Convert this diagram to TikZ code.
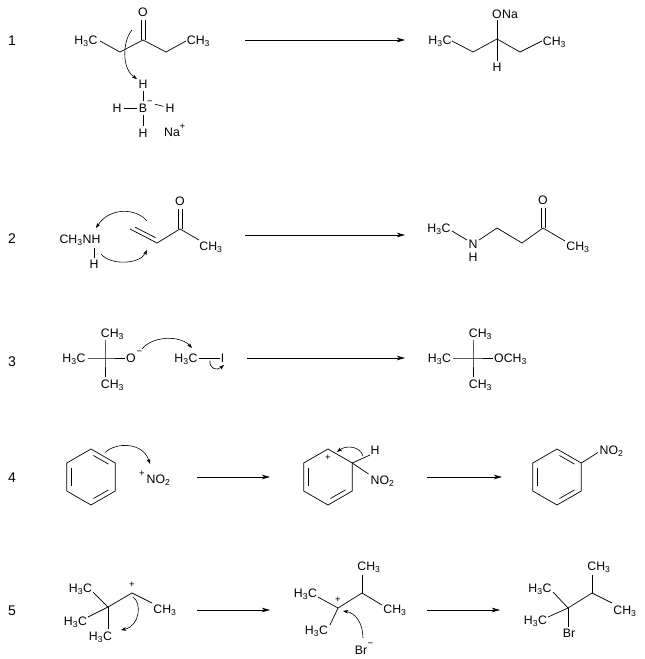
\documentclass[tikz,border=0pt]{standalone}
\usepackage{fontspec}
\setmainfont{Liberation Sans}
\usetikzlibrary{arrows.meta,calc}
\newcommand{\chsub}[1]{\textsubscript{#1}}
\newcommand{\chsup}[1]{\textsuperscript{#1}}
\begin{document}
\begin{tikzpicture}[x=1pt,y=-1pt,
  bond/.style={line width=0.7pt},
  hbond/.style={bond, shorten <=2pt, shorten >=2pt},
  inner/.style={bond, shorten <=2.8pt, shorten >=2.8pt},
  lbl/.style={font=\fontsize{12.3}{14}\selectfont, inner sep=0pt, text height=8.8pt, text depth=0pt},
  supl/.style={font=\fontsize{9.5}{10}\selectfont, inner sep=0pt},
  num/.style={font=\fontsize{14}{16}\selectfont, inner sep=0pt, text height=10pt, text depth=0pt},
  rxn/.style={line width=0.7pt, -{Stealth[length=8pt,width=4.5pt,inset=2pt]}},
  curly/.style={line width=0.6pt, -{Stealth[length=5pt,width=3.6pt,inset=1.2pt]}}]
\fill[white] (0,0) rectangle (645,659);
\useasboundingbox (0,0) rectangle (645,659);

% ---------------- Row 1 ----------------
\node[num] (n1) at (12,40) {1};
\node[lbl] (r1a) at (86,40) {H\chsub{3}C};
\coordinate (r1a1) at (100,41);
\coordinate (r1b) at (120,52);
\coordinate (r1c) at (143,40);
\coordinate (r1d) at (166,52);
\coordinate (r1e1) at (186,41);
\node[lbl] (r1e) at (198.5,40) {CH\chsub{3}};
\node[lbl] (r1O) at (143,12) {O};
\coordinate (r1Ob) at (143,19.5);
\draw[bond] (r1a1) -- (r1b) -- (r1c) -- (r1d) -- (r1e1);
\draw[bond] ([xshift=-2pt]r1c) -- ([xshift=-2pt]r1Ob);
\draw[bond] ([xshift=2pt]r1c) -- ([xshift=2pt]r1Ob);
\coordinate (r1cs) at (132,30);
\coordinate (r1ce) at (137,79);
\draw[curly] (r1cs) .. controls (123,40) and (121,68) .. (r1ce);
\node[lbl] (r1Ht) at (143,84) {H};
\node[lbl] (r1B) at (143,108) {B};
\node[supl] (r1Bm) at (150,103) {−};
\node[lbl] (r1Hl) at (117,108) {H};
\node[lbl] (r1Hr) at (170,108) {H};
\node[lbl] (r1Hb) at (143,133) {H};
\node[lbl] (r1Na) at (172,132) {Na};
\node[supl] (r1Nap) at (182.5,127) {+};
\draw[hbond] (r1Ht) -- (r1B);
\draw[hbond] (r1B) -- (r1Hb);
\draw[hbond] (r1Hl) -- (r1B);
\draw[hbond] (r1Bm) -- (r1Hr);
\coordinate (a1s) at (245,40);
\coordinate (a1e) at (405,40);
\draw[rxn] (a1s) -- (a1e);
\node[lbl] (p1a) at (440,40) {H\chsub{3}C};
\coordinate (p1a1) at (452,41);
\coordinate (p1b) at (473,52);
\coordinate (p1c) at (497,39);
\coordinate (p1d) at (520,52);
\coordinate (p1e1) at (542,41);
\node[lbl] (p1e) at (554.5,41) {CH\chsub{3}};
\node[lbl] (p1O) at (497,14) {O};
\node[lbl,anchor=west] (p1Na) at (p1O.east) {Na};
\node[lbl] (p1H) at (497,67) {H};
\draw[bond] (p1a1) -- (p1b) -- (p1c) -- (p1d) -- (p1e1);
\draw[bond, shorten >=1.5pt] (p1c) -- (p1O);
\draw[bond, shorten >=1.5pt] (p1c) -- (p1H);

% ---------------- Row 2 ----------------
\node[num] (n2) at (12,238) {2};
\node[lbl] (r2t) at (80,239) {CH\chsub{3}NH};
\coordinate (r2Nb) at (94,247.5);
\node[lbl] (r2Hb) at (94,264) {H};
\draw[bond, shorten >=1.5pt] (r2Nb) -- (r2Hb);
\coordinate (r2a) at (130,229);
\coordinate (r2b) at (157,243);
\coordinate (r2c) at (180,229);
\coordinate (r2d1) at (199,240);
\coordinate (r2ia) at (135,227.1);
\coordinate (r2ib) at (155.6,237.7);
\node[lbl] (r2O) at (180,201) {O};
\coordinate (r2Ob) at (180,208.5);
\node[lbl] (r2Me) at (211,246) {CH\chsub{3}};
\draw[bond] (r2a) -- (r2b) -- (r2c) -- (r2d1);
\draw[bond] (r2ia) -- (r2ib);
\draw[bond] ([xshift=-2pt]r2c) -- ([xshift=-2pt]r2Ob);
\draw[bond] ([xshift=2pt]r2c) -- ([xshift=2pt]r2Ob);
\coordinate (r2u1) at (147,221);
\coordinate (r2u2) at (96,228);
\draw[curly] (r2u1) .. controls (135,207) and (109,208) .. (r2u2);
\coordinate (r2l1) at (101,254);
\coordinate (r2l2) at (147,250);
\draw[curly] (r2l1) .. controls (111,266) and (140,264) .. (r2l2);
\coordinate (a2s) at (245,235);
\coordinate (a2e) at (405,235);
\draw[rxn] (a2s) -- (a2e);
\node[lbl] (p2a) at (439,228) {H\chsub{3}C};
\node[lbl] (p2N) at (473,244) {N};
\node[lbl] (p2H) at (473,257) {H};
\coordinate (p2a1) at (452,231);
\coordinate (p2n1) at (467,240);
\coordinate (p2n2) at (479,240);
\coordinate (p2b) at (497,228);
\coordinate (p2c) at (522,243);
\coordinate (p2d) at (543,228);
\coordinate (p2e1) at (565,241);
\node[lbl] (p2O) at (543,200) {O};
\coordinate (p2Ob) at (543,207.5);
\node[lbl] (p2Me) at (578,246) {CH\chsub{3}};
\draw[bond] (p2a1) -- (p2n1);
\draw[bond] (p2n2) -- (p2b) -- (p2c) -- (p2d) -- (p2e1);
\draw[bond] ([xshift=-2pt]p2d) -- ([xshift=-2pt]p2Ob);
\draw[bond] ([xshift=2pt]p2d) -- ([xshift=2pt]p2Ob);

% ---------------- Row 3 ----------------
\node[num] (n3) at (12,361) {3};
\node[lbl] (r3a) at (74,358) {H\chsub{3}C};
\coordinate (r3a1) at (87.5,358);
\coordinate (r3c) at (105,358);
\coordinate (r3o1) at (124.5,358);
\node[lbl] (r3t) at (112.5,333) {CH\chsub{3}};
\coordinate (r3t1) at (105,340);
\node[lbl] (r3b) at (112.5,384) {CH\chsub{3}};
\coordinate (r3b1) at (105,377);
\node[lbl] (r3O) at (131,358) {O};
\node[supl] (r3Om) at (139.5,353) {−};
\draw[bond] (r3a1) -- (r3c) -- (r3o1);
\draw[bond] (r3t1) -- (r3c) -- (r3b1);
\node[lbl] (r3m) at (186,358) {H\chsub{3}C};
\coordinate (r3m1) at (199,358);
\coordinate (r3i1) at (219.5,358);
\node[lbl] (r3I) at (222.5,358) {I};
\draw[bond] (r3m1) -- (r3i1);
\coordinate (r3c1) at (142,349);
\coordinate (r3c2) at (192,348);
\draw[curly] (r3c1) .. controls (152,336) and (180,335) .. (r3c2);
\coordinate (r3h1) at (210,360.5);
\coordinate (r3h2) at (224,365);
\draw[curly] (r3h1) .. controls (209,369) and (217,371) .. (r3h2);
\coordinate (a3s) at (247,358);
\coordinate (a3e) at (405,358);
\draw[rxn] (a3s) -- (a3e);
\node[lbl] (p3a) at (439.5,358) {H\chsub{3}C};
\coordinate (p3a1) at (452.5,358);
\coordinate (p3c) at (473,358);
\coordinate (p3o1) at (493,358);
\node[lbl,anchor=west] (p3o) at (494,358) {OCH\chsub{3}};
\node[lbl] (p3t) at (480.5,333) {CH\chsub{3}};
\coordinate (p3t1) at (473,340);
\node[lbl] (p3b) at (480.5,384) {CH\chsub{3}};
\coordinate (p3b1) at (473,377);
\draw[bond] (p3a1) -- (p3c) -- (p3o1);
\draw[bond] (p3t1) -- (p3c) -- (p3b1);

% ---------------- Row 4 ----------------
\node[num] (n4) at (12,477) {4};
\coordinate (q1) at (91,477);
\coordinate (q1t) at (91,449);
\coordinate (q1ur) at (115.25,463);
\coordinate (q1lr) at (115.25,491);
\coordinate (q1b) at (91,505);
\coordinate (q1ll) at (66.75,491);
\coordinate (q1ul) at (66.75,463);
\draw[bond] (q1t) -- (q1ur) -- (q1lr) -- (q1b) -- (q1ll) -- (q1ul) -- cycle;
\draw[inner] ($(q1)!0.82!(q1ul)$) -- ($(q1)!0.82!(q1ll)$);
\draw[inner] ($(q1)!0.82!(q1t)$) -- ($(q1)!0.82!(q1ur)$);
\draw[inner] ($(q1)!0.82!(q1b)$) -- ($(q1)!0.82!(q1lr)$);
\coordinate (r4c1) at (105,452.5);
\coordinate (r4c2) at (150,464);
\draw[curly] (r4c1) .. controls (116,442) and (143,442) .. (r4c2);
\node[lbl,anchor=west] (r4N) at (146.5,479) {NO\chsub{2}};
\node[supl] (r4p) at (142,474) {+};
\coordinate (a4s) at (197,477);
\coordinate (a4e) at (270,477);
\draw[rxn] (a4s) -- (a4e);
\coordinate (q2) at (328,477);
\coordinate (q2t) at (328,449);
\coordinate (q2ur) at (352.25,463);
\coordinate (q2lr) at (352.25,491);
\coordinate (q2b) at (328,505);
\coordinate (q2ll) at (303.75,491);
\coordinate (q2ul) at (303.75,463);
\draw[bond] (q2t) -- (q2ur) -- (q2lr) -- (q2b) -- (q2ll) -- (q2ul) -- cycle;
\draw[inner] ($(q2)!0.82!(q2ul)$) -- ($(q2)!0.82!(q2ll)$);
\draw[inner] ($(q2)!0.82!(q2b)$) -- ($(q2)!0.82!(q2lr)$);
\node[supl] (i4p) at (328,458) {+};
\node[lbl] (i4H) at (375,450) {H};
\coordinate (i4h1) at (370,455);
\coordinate (i4n1) at (368.5,474);
\node[lbl,anchor=west] (i4N) at (370.5,480) {NO\chsub{2}};
\draw[bond] (q2ur) -- (i4h1);
\draw[bond] (q2ur) -- (i4n1);
\coordinate (i4c1) at (363,456);
\coordinate (i4c2) at (337,452);
\draw[curly] (i4c1) .. controls (360,446) and (346,445) .. (i4c2);
\coordinate (a5s) at (427,477);
\coordinate (a5e) at (502,477);
\draw[rxn] (a5s) -- (a5e);
\coordinate (q3) at (557,477);
\coordinate (q3t) at (557,449);
\coordinate (q3ur) at (581.25,463);
\coordinate (q3lr) at (581.25,491);
\coordinate (q3b) at (557,505);
\coordinate (q3ll) at (532.75,491);
\coordinate (q3ul) at (532.75,463);
\draw[bond] (q3t) -- (q3ur) -- (q3lr) -- (q3b) -- (q3ll) -- (q3ul) -- cycle;
\draw[inner] ($(q3)!0.82!(q3ul)$) -- ($(q3)!0.82!(q3ll)$);
\draw[inner] ($(q3)!0.82!(q3t)$) -- ($(q3)!0.82!(q3ur)$);
\draw[inner] ($(q3)!0.82!(q3b)$) -- ($(q3)!0.82!(q3lr)$);
\coordinate (p4n1) at (598,452.5);
\node[lbl,anchor=west] (p4N) at (599.5,450) {NO\chsub{2}};
\draw[bond] (q3ur) -- (p4n1);

% ---------------- Row 5 ----------------
\node[num] (n5) at (12,610) {5};
\coordinate (r5q) at (108,607);
\node[lbl] (r5a) at (80.5,588) {H\chsub{3}C};
\coordinate (r5a1) at (93,592);
\node[lbl] (r5b) at (75.5,621) {H\chsub{3}C};
\coordinate (r5b1) at (88,617);
\node[lbl] (r5c) at (100.5,636) {H\chsub{3}C};
\coordinate (r5c1) at (108,629);
\coordinate (r5p) at (132,593);
\node[supl] (r5pl) at (132,585) {+};
\coordinate (r5d1) at (152,603);
\node[lbl] (r5d) at (165,609) {CH\chsub{3}};
\draw[bond] (r5a1) -- (r5q) -- (r5b1);
\draw[bond] (r5q) -- (r5c1);
\draw[bond] (r5q) -- (r5p) -- (r5d1);
\coordinate (r5cs) at (133,597);
\coordinate (r5ce) at (121,630);
\draw[curly] (r5cs) .. controls (142,603) and (140,626) .. (r5ce);
\coordinate (a6s) at (197,610);
\coordinate (a6e) at (270,610);
\draw[rxn] (a6s) -- (a6e);
\coordinate (i5q) at (338,608);
\node[supl] (i5pl) at (338,600) {+};
\node[lbl] (i5a) at (305.5,593) {H\chsub{3}C};
\coordinate (i5a1) at (318,597);
\node[lbl] (i5b) at (316.5,630) {H\chsub{3}C};
\coordinate (i5b1) at (330,625);
\coordinate (i5ch) at (362,593);
\coordinate (i5t1) at (362,575);
\node[lbl] (i5t) at (369,566) {CH\chsub{3}};
\coordinate (i5r1) at (382,605);
\node[lbl] (i5r) at (395,609) {CH\chsub{3}};
\node[lbl] (i5Br) at (361,650) {Br};
\node[supl] (i5Brm) at (370.5,645) {−};
\draw[bond] (i5a1) -- (i5q) -- (i5b1);
\draw[bond] (i5q) -- (i5ch) -- (i5r1);
\draw[bond] (i5ch) -- (i5t1);
\coordinate (i5cs) at (363,638);
\coordinate (i5ce) at (343,611);
\draw[curly] (i5cs) .. controls (363,624) and (356,613) .. (i5ce);
\coordinate (a7s) at (427,610);
\coordinate (a7e) at (500,610);
\draw[rxn] (a7s) -- (a7e);
\coordinate (p5q) at (568,608);
\node[lbl] (p5a) at (540,588) {H\chsub{3}C};
\coordinate (p5a1) at (553,592);
\node[lbl] (p5b) at (535.5,620) {H\chsub{3}C};
\coordinate (p5b1) at (548,617);
\node[lbl] (p5Br) at (569,633.5) {Br};
\coordinate (p5br1) at (568,627);
\coordinate (p5ch) at (592,593);
\coordinate (p5t1) at (592,575);
\node[lbl] (p5t) at (599,566) {CH\chsub{3}};
\coordinate (p5r1) at (612,603);
\node[lbl] (p5r) at (625,610) {CH\chsub{3}};
\draw[bond] (p5a1) -- (p5q) -- (p5b1);
\draw[bond] (p5q) -- (p5br1);
\draw[bond] (p5q) -- (p5ch) -- (p5r1);
\draw[bond] (p5ch) -- (p5t1);
\end{tikzpicture}
\end{document}
